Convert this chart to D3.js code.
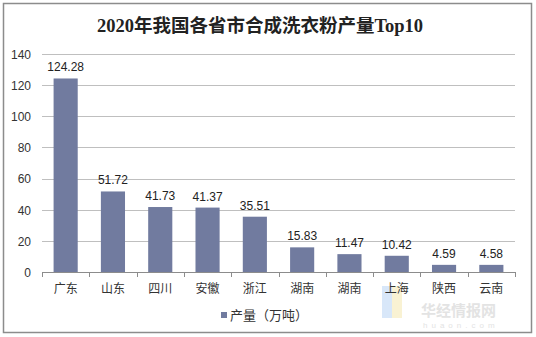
<!DOCTYPE html>
<html><head><meta charset="utf-8">
<script src="https://cdn.jsdelivr.net/npm/d3@7/dist/d3.min.js"></script>
<style>body{margin:0;background:#fff}svg{display:block}</style>
</head><body>
<script>
const categories = ["广东","山东","四川","安徽","浙江","湖南","湖南","上海","陕西","云南"];
const values = [124.28,51.72,41.73,41.37,35.51,15.83,11.47,10.42,4.59,4.58];
const yTicks = [0,20,40,60,80,100,120,140];
const title = "2020年我国各省市合成洗衣粉产量Top10";
const seriesName = "产量（万吨）";

const W=536,H=337;
const svg=d3.select("body").append("svg").attr("width",W).attr("height",H);
svg.append("rect").attr("x",3.5).attr("y",3.5).attr("width",528).attr("height",329)
  .attr("fill","#fff").attr("stroke","#8c8c8c").attr("stroke-width",1.5);

const cjk='"Noto Sans CJK SC", sans-serif';
svg.append("text").attr("x",260).attr("y",32).attr("text-anchor","middle")
  .attr("font-family",'"Liberation Serif", "Noto Sans CJK SC", serif').attr("font-weight","bold")
  .attr("font-size",18.5).attr("fill","#222").text(title);

const x=d3.scaleBand().domain(d3.range(categories.length)).range([42,515]).paddingInner(0.49).paddingOuter(0.245);
const y=d3.scaleLinear().domain([0,140]).range([272,54]);

// watermark (behind)
const wm=svg.append("g").attr("opacity",0.5);
wm.append("rect").attr("x",382).attr("y",286).attr("width",10).attr("height",32).attr("fill","#b3d1f5");
wm.append("rect").attr("x",392).attr("y",286).attr("width",10).attr("height",32).attr("fill","#f5e6a8");
wm.append("text").attr("x",421).attr("y",316).attr("font-family",cjk).attr("font-weight","bold").attr("font-size",15).attr("fill","#c8c8c8").text("华经情报网");
wm.append("text").attr("x",423).attr("y",328).attr("font-family","Arial, sans-serif").attr("font-size",8).attr("letter-spacing",4).attr("fill","#c8c8c8").text("huaon.com");

// gridlines
svg.append("g").selectAll("line").data(yTicks.filter(d=>d>0)).join("line")
  .attr("x1",42).attr("x2",515).attr("y1",d=>Math.round(y(d))+0.5).attr("y2",d=>Math.round(y(d))+0.5)
  .attr("stroke","#bfbfbf");

const ya=d3.axisLeft(y).tickValues(yTicks).tickSize(0).tickPadding(11);
const gy=svg.append("g").attr("transform","translate(42,0.5)").call(ya);
gy.select(".domain").remove();
gy.selectAll("text").attr("font-family","Arial, 'Liberation Sans', sans-serif").attr("font-size",12).attr("fill","#333");

// bars
svg.append("g").selectAll("rect").data(values).join("rect")
  .attr("x",(d,i)=>x(i)).attr("width",x.bandwidth())
  .attr("y",d=>y(d)).attr("height",d=>y(0)-y(d)).attr("fill","#717b9f");

svg.append("g").selectAll("text").data(values).join("text")
  .attr("x",(d,i)=>x(i)+x.bandwidth()/2).attr("y",d=>y(d)-7)
  .attr("text-anchor","middle").attr("font-family","Arial, 'Liberation Sans', sans-serif")
  .attr("font-size",12).attr("fill","#222").text(d=>d.toFixed(2));

// x axis
const xb=d3.scaleLinear().domain([0,categories.length]).range([42,515]);
svg.append("line").attr("x1",42).attr("x2",515).attr("y1",272.5).attr("y2",272.5).attr("stroke","#8c8c8c");
svg.append("g").selectAll("line").data(d3.range(categories.length+1)).join("line")
  .attr("x1",d=>Math.round(xb(d))+0.5).attr("x2",d=>Math.round(xb(d))+0.5).attr("y1",272).attr("y2",277).attr("stroke","#8c8c8c");
svg.append("g").selectAll("text").data(categories).join("text")
  .attr("x",(d,i)=>x(i)+x.bandwidth()/2).attr("y",293).attr("text-anchor","middle")
  .attr("font-family",cjk).attr("font-size",12).attr("fill","#333").text(d=>d);

// legend
svg.append("rect").attr("x",221).attr("y",312).attr("width",6).attr("height",6).attr("fill","#717b9f");
svg.append("text").attr("x",230).attr("y",320).attr("font-family",cjk).attr("font-size",13).attr("fill","#333").text(seriesName);
</script>
</body></html>
